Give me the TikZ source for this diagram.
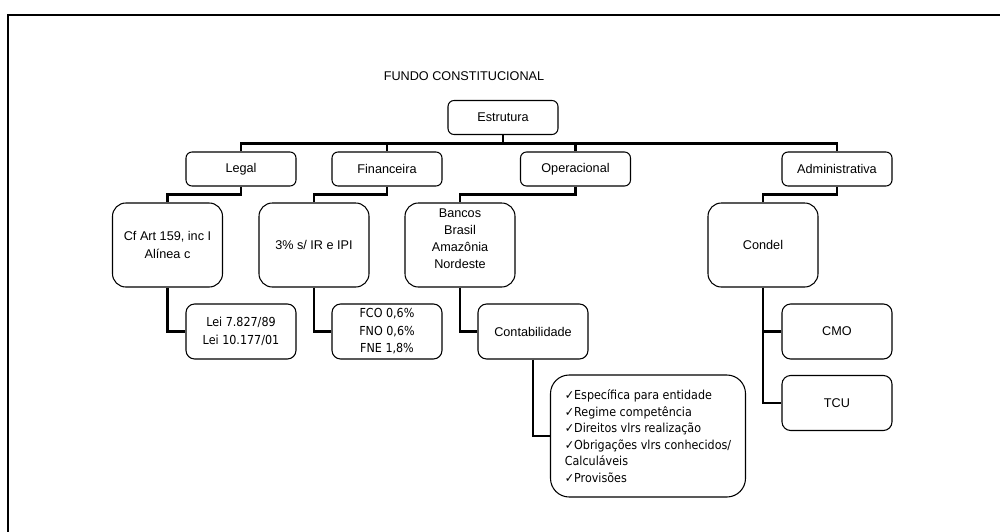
\documentclass[tikz,border=0pt]{standalone}
\usepackage{fontspec}
\setmainfont{Liberation Sans}
\newfontfamily\tahoma[FakeStretch=0.9]{DejaVu Sans}
\usetikzlibrary{positioning}

\begin{document}
\begin{tikzpicture}[x=0.75pt, y=-0.75pt,
  orgbox/.style={draw, line width=0.8pt, align=center, inner sep=2pt, minimum width=82.5pt, font=\fontsize{9.5}{12.8}\selectfont},
  small/.style={orgbox, minimum height=25.5pt, rounded corners=4.5pt},
  tall/.style={orgbox, minimum height=63pt, rounded corners=10pt},
  mid/.style={orgbox, minimum height=41.25pt, rounded corners=6.5pt},
  lawtext/.style={font=\tahoma\fontsize{9.3}{13.2}\selectfont},
  link/.style={line width=2.2pt}]
  \useasboundingbox (0,0) rectangle (1000,532);

  % frame
  \draw[line width=1.8pt] (8,532) -- (8,15) -- (1000,15);

  % title
  \node[font=\fontsize{9.5}{12}\selectfont] (titulo) at (464,76) {FUNDO CONSTITUCIONAL};

  % top levels
  \node[small] (estrutura) at (503,117.5) {Estrutura};
  \node[small] (legal) at (241,169) {Legal};
  \node[small] (financeira) at (387,169) {Financeira};
  \node[small] (operacional) at (575.5,169) {Operacional};
  \node[small] (administrativa) at (837,169) {Administrativa};

  \node[tall] (cfart) at (167.5,245) {Cf Art 159, inc I\\Alínea c};
  \node[tall] (aliquota) at (314,245) {3\% s/ IR e IPI};
  \node[tall, text depth=10pt] (bancos) at (460,245) {Bancos\\Brasil\\Amazônia\\Nordeste};
  \node[tall] (condel) at (763,245) {Condel};

  % lower levels
  \node[mid, lawtext] (leis) at (241,331.5) {Lei 7.827/89\\Lei 10.177/01};
  \node[mid, lawtext] (repasse) at (387,331.5) {FCO 0,6\%\\FNO 0,6\%\\FNE 1,8\%};
  \node[mid] (contab) at (533,331.5) {Contabilidade};
  \node[mid] (cmo) at (837,331.5) {CMO};
  \node[mid] (tcu) at (837,403) {TCU};

  \node[orgbox, minimum width=146.25pt, minimum height=91.5pt, rounded corners=14pt, align=left,
        font=\tahoma\fontsize{9.3}{12.4}\selectfont] (principios) at (648,436)
    {✓Específica para entidade\\✓Regime competência\\✓Direitos vlrs realização\\✓Obrigações vlrs conhecidos/\\Calculáveis\\✓Provisões};

  % connectors
  \foreach \n in {legal, financeira, operacional, administrativa}
    \draw[link] (estrutura.south) -- ++(0,8) -| (\n.north);
  \draw[link] (legal.south) -- ++(0,8) -| (cfart.north);
  \draw[link] (financeira.south) -- ++(0,8) -| (aliquota.north);
  \draw[link] (operacional.south) -- ++(0,8) -| (bancos.north);
  \draw[link] (administrativa.south) -- ++(0,8) -| (condel.north);
  \draw[link] (cfart.south) |- (leis.west);
  \draw[link] (aliquota.south) |- (repasse.west);
  \draw[link] (bancos.south) |- (contab.west);
  \draw[link] (contab.south) |- (principios.west);
  \draw[link] (condel.south) |- (cmo.west);
  \draw[link] (condel.south) |- (tcu.west);
\end{tikzpicture}
\end{document}
